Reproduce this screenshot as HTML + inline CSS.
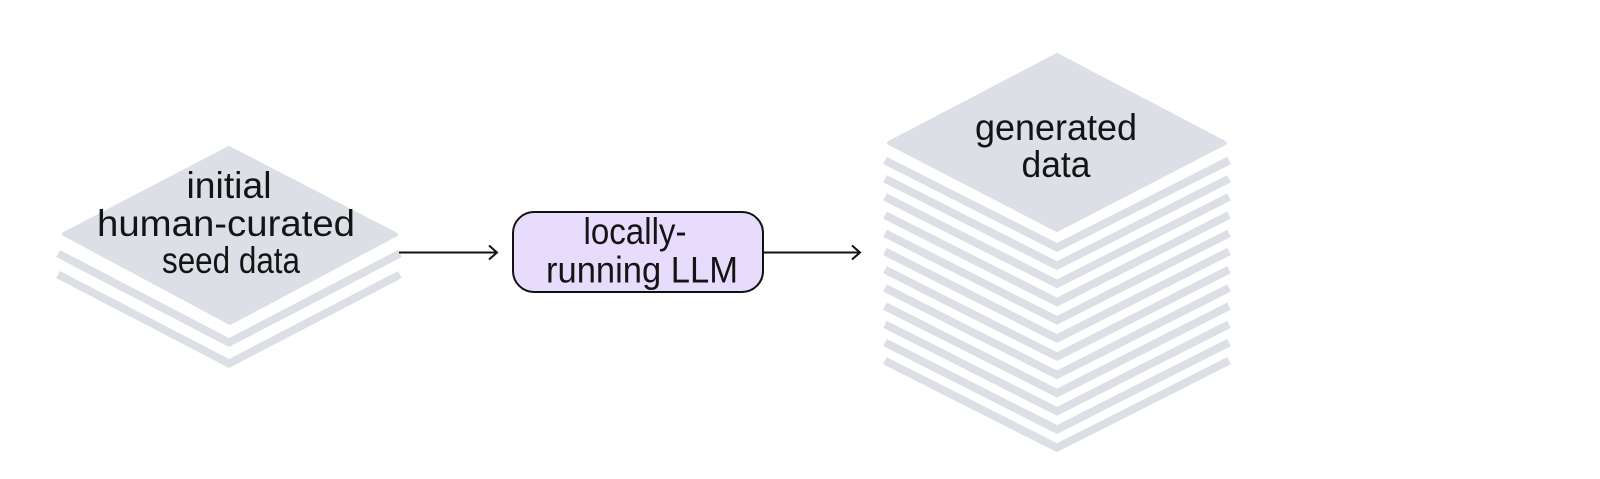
<!DOCTYPE html>
<html>
<head>
<meta charset="utf-8">
<style>
  html, body { margin: 0; padding: 0; background: #ffffff; }
  body { width: 1600px; height: 479px; overflow: hidden; }
  svg { display: block; }
  text { font-family: "Liberation Sans", "DejaVu Sans", sans-serif; fill: #141414; }
</style>
</head>
<body>
<svg width="1600" height="479" viewBox="0 0 1600 479" xmlns="http://www.w3.org/2000/svg">
  <rect x="0" y="0" width="1600" height="479" fill="#ffffff"/>

  <!-- Left stack -->
  <g fill="none" stroke="#dcdfe6" stroke-width="8" stroke-linejoin="miter">
    <polyline points="58,253.5 229,342.5 400,253.5"/>
    <polyline points="58,274.5 229,363.5 400,274.5"/>
  </g>
  <polygon points="229,148 396,234.5 230,323 64,234" fill="#dcdfe6" stroke="#dcdfe6" stroke-width="4" stroke-linejoin="round"/>

  <text x="229" y="198" font-size="37" text-anchor="middle" textLength="85" lengthAdjust="spacingAndGlyphs">initial</text>
  <text x="226" y="236" font-size="37" text-anchor="middle" textLength="258" lengthAdjust="spacingAndGlyphs">human-curated</text>
  <text x="231" y="273" font-size="37" text-anchor="middle" textLength="138" lengthAdjust="spacingAndGlyphs">seed data</text>

  <!-- Arrow 1 -->
  <line x1="399" y1="252.5" x2="496" y2="252.5" stroke="#111" stroke-width="2"/>
  <polyline points="489,245.5 497,252.5 489,259.5" fill="none" stroke="#111" stroke-width="2" stroke-linejoin="miter"/>

  <!-- LLM box -->
  <rect x="513" y="212" width="250" height="80" rx="21" ry="21" fill="#e8dcfd" stroke="#111" stroke-width="2"/>
  <text x="635" y="244" font-size="37" text-anchor="middle" textLength="103" lengthAdjust="spacingAndGlyphs">locally-</text>
  <text x="642" y="282.5" font-size="37" text-anchor="middle" textLength="192" lengthAdjust="spacingAndGlyphs">running LLM</text>

  <!-- Arrow 2 -->
  <line x1="764" y1="252.5" x2="859" y2="252.5" stroke="#111" stroke-width="2"/>
  <polyline points="852,245.5 860,252.5 852,259.5" fill="none" stroke="#111" stroke-width="2" stroke-linejoin="miter"/>

  <!-- Right stack -->
  <g fill="none" stroke="#dcdfe6" stroke-width="8" stroke-linejoin="miter">
    <polyline points="885,160.5 1057,247.5 1229,160.5"/>
    <polyline points="885,178.7 1057,265.7 1229,178.7"/>
    <polyline points="885,196.9 1057,283.9 1229,196.9"/>
    <polyline points="885,215.1 1057,302.1 1229,215.1"/>
    <polyline points="885,233.3 1057,320.3 1229,233.3"/>
    <polyline points="885,251.5 1057,338.5 1229,251.5"/>
    <polyline points="885,269.7 1057,356.7 1229,269.7"/>
    <polyline points="885,287.9 1057,374.9 1229,287.9"/>
    <polyline points="885,306.1 1057,393.1 1229,306.1"/>
    <polyline points="885,324.3 1057,411.3 1229,324.3"/>
    <polyline points="885,342.5 1057,429.5 1229,342.5"/>
    <polyline points="885,360.7 1057,447.7 1229,360.7"/>
  </g>
  <polygon points="1057,55 1225,143 1057,230 889,143" fill="#dcdfe6" stroke="#dcdfe6" stroke-width="4" stroke-linejoin="round"/>

  <text x="1056" y="140" font-size="37" text-anchor="middle" textLength="162" lengthAdjust="spacingAndGlyphs">generated</text>
  <text x="1056" y="177" font-size="37" text-anchor="middle" textLength="69" lengthAdjust="spacingAndGlyphs">data</text>
</svg>
</body>
</html>
